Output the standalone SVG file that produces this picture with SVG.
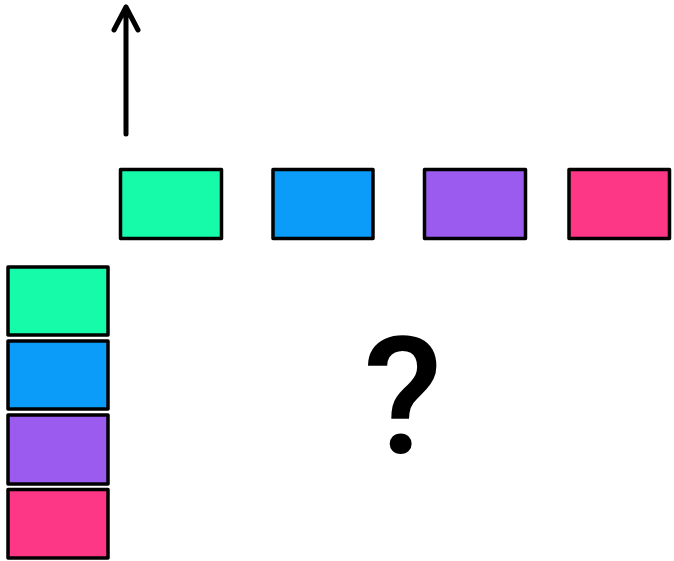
<svg xmlns="http://www.w3.org/2000/svg" width="674" height="561" viewBox="0 0 674 561">
<style>
.b{stroke:#000;stroke-width:3.5;stroke-linejoin:round}
.g{fill:#16FBAA}.bl{fill:#0B9CFA}.p{fill:#9A5BEE}.k{fill:#FD3686}
.q{font-family:Roboto,"Liberation Sans",Arial,sans-serif;font-weight:500;font-size:163px;fill:#000}
</style>
<rect width="674" height="561" fill="#fff"/>
<g id="arrow"><path d="M126 134V7M114 30L126 7L138 30" fill="none" stroke="#000" stroke-width="5" stroke-linecap="round" stroke-linejoin="round"/></g>
<g id="top-green"><rect class="b g" x="120.5" y="169.5" width="101" height="69"/></g>
<g id="top-blue"><rect class="b bl" x="273" y="169.5" width="100" height="69"/></g>
<g id="top-purple"><rect class="b p" x="424.5" y="169.5" width="101" height="69"/></g>
<g id="top-pink"><rect class="b k" x="569" y="169.5" width="100.5" height="69"/></g>
<g id="left-green"><rect class="b g" x="8" y="267" width="100" height="68"/></g>
<g id="left-blue"><rect class="b bl" x="8" y="341" width="100" height="68"/></g>
<g id="left-purple"><rect class="b p" x="8" y="415" width="100" height="69"/></g>
<g id="left-pink"><rect class="b k" x="8" y="489.5" width="100" height="68.5"/></g>
<g id="question"><text class="q" x="403" y="453" text-anchor="middle">?</text></g>
</svg>
